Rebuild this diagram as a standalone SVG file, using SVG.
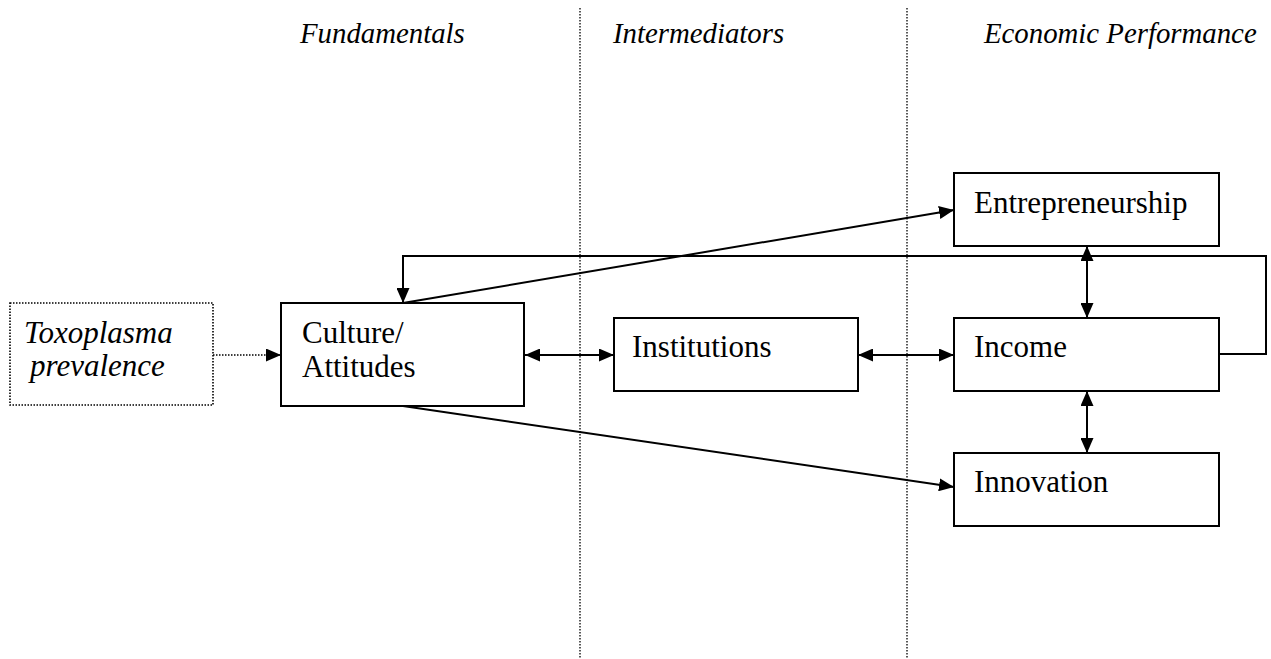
<svg xmlns="http://www.w3.org/2000/svg" width="1271" height="659" viewBox="0 0 1271 659">
<style>
.box{fill:#fff;stroke:#000;stroke-width:2}
.dbox{fill:#fff;stroke:#000;stroke-width:1.6;stroke-dasharray:1.5 1.5}
.t{font-family:"Liberation Serif","Times New Roman",serif;font-size:31px;fill:#000}
.i{font-style:italic}
.h{font-family:"Liberation Serif","Times New Roman",serif;font-size:28.8px;font-style:italic;fill:#000}
.c{fill:none;stroke:#000;stroke-width:2}
.sep{stroke:#000;stroke-width:1.3;stroke-dasharray:1.5 1.5}
</style>
<defs>
<marker id="ah" viewBox="0 0 15 13" refX="15" refY="6.5" markerWidth="15" markerHeight="13" orient="auto-start-reverse" markerUnits="userSpaceOnUse">
<path d="M0,0 L15,6.5 L0,13 z" fill="#000"/>
</marker>
</defs>
<g id="separators">
<line class="sep" x1="580" y1="8" x2="580" y2="659"/>
<line class="sep" x1="907" y1="8" x2="907" y2="659"/>
</g>
<g id="headings">
<text class="h" x="300" y="43">Fundamentals</text>
<text class="h" x="613" y="43">Intermediators</text>
<text class="h" x="984" y="43">Economic Performance</text>
</g>
<g id="connectors">
<line class="c" x1="213" y1="355" x2="281" y2="355" style="stroke-dasharray:1.5 1.5;stroke-width:1.4" marker-end="url(#ah)"/>
<line class="c" x1="525" y1="355" x2="614" y2="355" marker-start="url(#ah)" marker-end="url(#ah)"/>
<line class="c" x1="858" y1="355" x2="954" y2="355" marker-start="url(#ah)" marker-end="url(#ah)"/>
<line class="c" x1="403" y1="303" x2="954" y2="210" marker-end="url(#ah)"/>
<line class="c" x1="403" y1="406" x2="954" y2="487" marker-end="url(#ah)"/>
<polyline class="c" points="1219,354 1266,354 1266,256 403,256 403,303" marker-end="url(#ah)"/>
<line class="c" x1="1087" y1="246" x2="1087" y2="318" marker-start="url(#ah)" marker-end="url(#ah)"/>
<line class="c" x1="1087" y1="391" x2="1087" y2="453" marker-start="url(#ah)" marker-end="url(#ah)"/>
</g>
<g id="toxoplasma">
<rect class="dbox" x="10" y="303" width="203" height="102"/>
<text class="t i" x="24" y="343">Toxoplasma</text>
<text class="t i" x="30" y="376">prevalence</text>
</g>
<g id="culture">
<rect class="box" x="281" y="303" width="243" height="103"/>
<text class="t" x="302" y="343">Culture/</text>
<text class="t" x="302" y="377">Attitudes</text>
</g>
<g id="institutions">
<rect class="box" x="614" y="318" width="244" height="73"/>
<text class="t" x="632" y="357">Institutions</text>
</g>
<g id="entrepreneurship">
<rect class="box" x="954" y="173" width="265" height="73"/>
<text class="t" x="974" y="213">Entrepreneurship</text>
</g>
<g id="income">
<rect class="box" x="954" y="318" width="265" height="73"/>
<text class="t" x="974" y="357">Income</text>
</g>
<g id="innovation">
<rect class="box" x="954" y="453" width="265" height="73"/>
<text class="t" x="974" y="492">Innovation</text>
</g>
</svg>
